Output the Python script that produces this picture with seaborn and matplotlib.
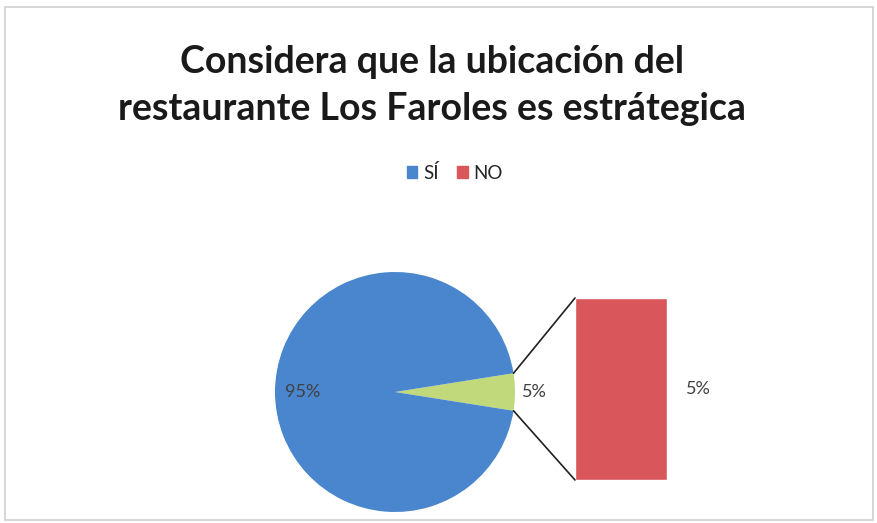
import matplotlib
matplotlib.use("Agg")
import matplotlib.pyplot as plt
import seaborn as sns
from matplotlib.patches import ConnectionPatch, Rectangle, Patch
import numpy as np

# data
categorias = ["SÍ", "NO"]
porcentajes = [95, 5]
titulo = "Considera que la ubicación del\nrestaurante Los Faroles es estrátegica"

azul = "#4A86CE"
rojo = "#D9575B"
verde = "#C2D97B"

sns.set_theme(style="white")
plt.rcParams["font.family"] = ["Lato", "DejaVu Sans"]

fig = plt.figure(figsize=(8.78, 5.23), dpi=100)
fig.patches.append(Rectangle((0.006, 0.006), 0.988, 0.98, transform=fig.transFigure,
                             fill=False, edgecolor="#d0d0d0", linewidth=1.2))

# pie: main category + "other" slice (the NO share, shown in the bar)
ax_pie = fig.add_axes([275 / 878, 11 / 523, 240 / 878, 240 / 523])
otro = porcentajes[1]
ang = otro / 100 * 360 / 2
ax_pie.pie([otro, porcentajes[0]], colors=[verde, azul], startangle=-ang,
           counterclock=True, radius=1, wedgeprops=dict(linewidth=0))
ax_pie.set_xlim(-1, 1)
ax_pie.set_ylim(-1, 1)
ax_pie.set_aspect("equal")
ax_pie.text(-0.77, 0, f"{porcentajes[0]}%", ha="center", va="center", fontsize=13, color="#404040")
ax_pie.text(1.16, 0, f"{otro}%", ha="center", va="center", fontsize=13, color="#404040")

# bar of the "other" slice
ax_bar = fig.add_axes([575 / 878, 43 / 523, 92 / 878, 182 / 523])
df = {"cat": [categorias[1]], "val": [porcentajes[1]]}
sns.barplot(x=df["cat"], y=df["val"], ax=ax_bar, color=rojo, width=1, saturation=1)
ax_bar.set_xlim(-0.5, 0.5)
ax_bar.set_ylim(0, porcentajes[1])
ax_bar.axis("off")
ax_bar.text(0.84, porcentajes[1] / 2, f"{porcentajes[1]}%", ha="center", va="center",
            fontsize=13, color="#404040")

# connector lines
th = np.deg2rad(ang)
for sgn, yb in [(1, porcentajes[1]), (-1, 0)]:
    con = ConnectionPatch(xyA=(np.cos(th), sgn * np.sin(th)), coordsA=ax_pie.transData,
                          xyB=(-0.5, yb), coordsB=ax_bar.transData,
                          color="#202020", linewidth=1.2)
    fig.add_artist(con)

fig.text(0.492, 0.837, titulo, ha="center", va="center", fontsize=27, fontweight="bold",
         color="#1a1a1a", linespacing=1.45)

handles = [Patch(color=azul, label=categorias[0]), Patch(color=rojo, label=categorias[1])]
fig.legend(handles=handles, loc="center", bbox_to_anchor=(0.518, 0.67), ncol=2, frameon=False,
           fontsize=13.5, handlelength=0.55, handleheight=0.55, handletextpad=0.3, columnspacing=1.0)

fig.savefig("out.png", dpi=100)
